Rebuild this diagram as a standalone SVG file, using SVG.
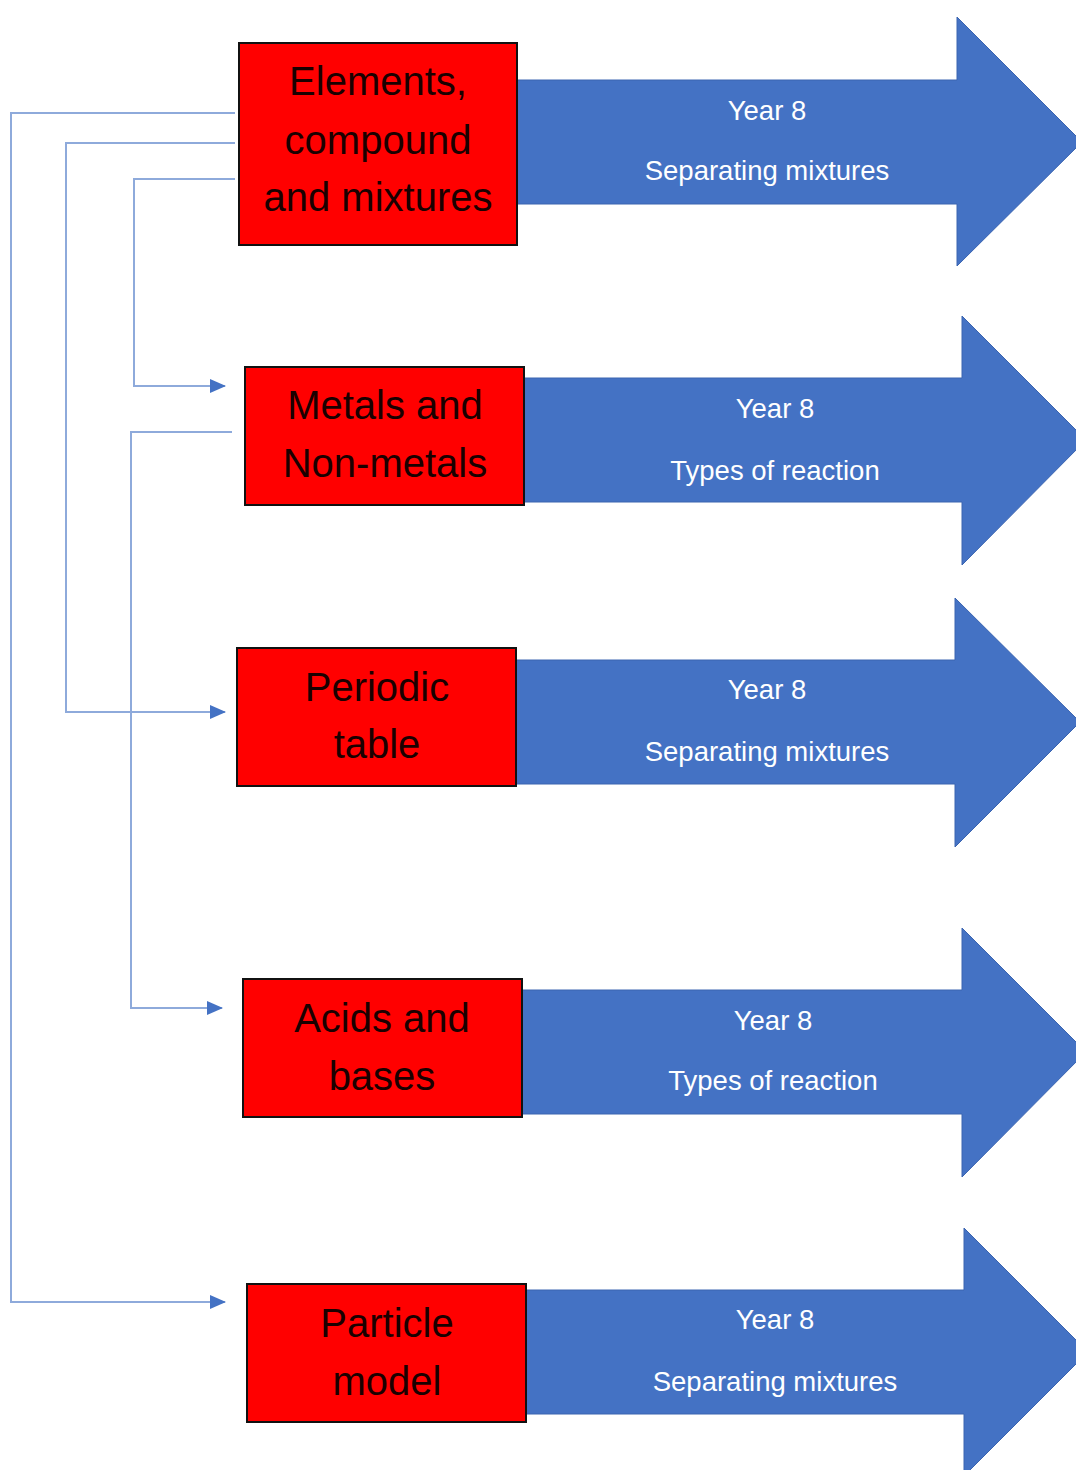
<svg xmlns="http://www.w3.org/2000/svg" width="1076" height="1470" viewBox="0 0 1076 1470">
<defs>
<style>
.box{fill:#ff0000;stroke:#111;stroke-width:2}
.arr{fill:#4472c4;stroke:#3a64b0;stroke-width:1}
.bt{font-family:"Liberation Sans",Arial,sans-serif;font-size:40px;fill:#1a0000;text-anchor:middle}
.at{font-family:"Liberation Sans",Arial,sans-serif;font-size:27.5px;fill:#ffffff;text-anchor:middle}
.con{fill:none;stroke:#8eaadb;stroke-width:2}
</style>
<marker id="ah2" markerWidth="16" markerHeight="14" refX="15" refY="7" orient="auto" markerUnits="userSpaceOnUse" viewBox="0 0 16 14">
<path d="M0,0 L16,7 L0,14 Z" fill="#4472c4"/>
</marker>
</defs>
<rect width="1076" height="1470" fill="#ffffff"/>

<g id="arrow1">
<path class="arr" d="M517,80 H957 V17 L1082,142 L957,266 V204 H517 Z"/>
<text class="at" x="767" y="120">Year 8</text>
<text class="at" x="767" y="180">Separating mixtures</text>
</g>
<g id="arrow2">
<path class="arr" d="M524,378 H962 V316 L1086,440 L962,565 V502 H524 Z"/>
<text class="at" x="775" y="418">Year 8</text>
<text class="at" x="775" y="480">Types of reaction</text>
</g>
<g id="arrow3">
<path class="arr" d="M516,660 H955 V598 L1080,722 L955,847 V784 H516 Z"/>
<text class="at" x="767" y="699">Year 8</text>
<text class="at" x="767" y="761">Separating mixtures</text>
</g>
<g id="arrow4">
<path class="arr" d="M522,990 H962 V928 L1086,1052 L962,1177 V1114 H522 Z"/>
<text class="at" x="773" y="1030">Year 8</text>
<text class="at" x="773" y="1090">Types of reaction</text>
</g>
<g id="arrow5">
<path class="arr" d="M526,1290 H964 V1228 L1088,1352 L964,1476 V1414 H526 Z"/>
<text class="at" x="775" y="1329">Year 8</text>
<text class="at" x="775" y="1391">Separating mixtures</text>
</g>

<g id="node1">
<rect class="box" x="239" y="43" width="278" height="202"/>
<text class="bt" x="378" y="95">Elements,</text>
<text class="bt" x="378" y="154">compound</text>
<text class="bt" x="378" y="211">and mixtures</text>
</g>
<g id="node2">
<rect class="box" x="245" y="367" width="279" height="138"/>
<text class="bt" x="385" y="419">Metals and</text>
<text class="bt" x="385" y="477">Non-metals</text>
</g>
<g id="node3">
<rect class="box" x="237" y="648" width="279" height="138"/>
<text class="bt" x="377" y="701">Periodic</text>
<text class="bt" x="377" y="758">table</text>
</g>
<g id="node4">
<rect class="box" x="243" y="979" width="279" height="138"/>
<text class="bt" x="382" y="1032">Acids and</text>
<text class="bt" x="382" y="1090">bases</text>
</g>
<g id="node5">
<rect class="box" x="247" y="1284" width="279" height="138"/>
<text class="bt" x="387" y="1337">Particle</text>
<text class="bt" x="387" y="1395">model</text>
</g>

<g id="connectors">
<path class="con" d="M235,113 H11 V1302 H225" marker-end="url(#ah2)"/>
<path class="con" d="M235,143 H66 V712 H225" marker-end="url(#ah2)"/>
<path class="con" d="M235,179 H134 V386 H225" marker-end="url(#ah2)"/>
<path class="con" d="M232,432 H131 V1008 H222" marker-end="url(#ah2)"/>
</g>
</svg>
